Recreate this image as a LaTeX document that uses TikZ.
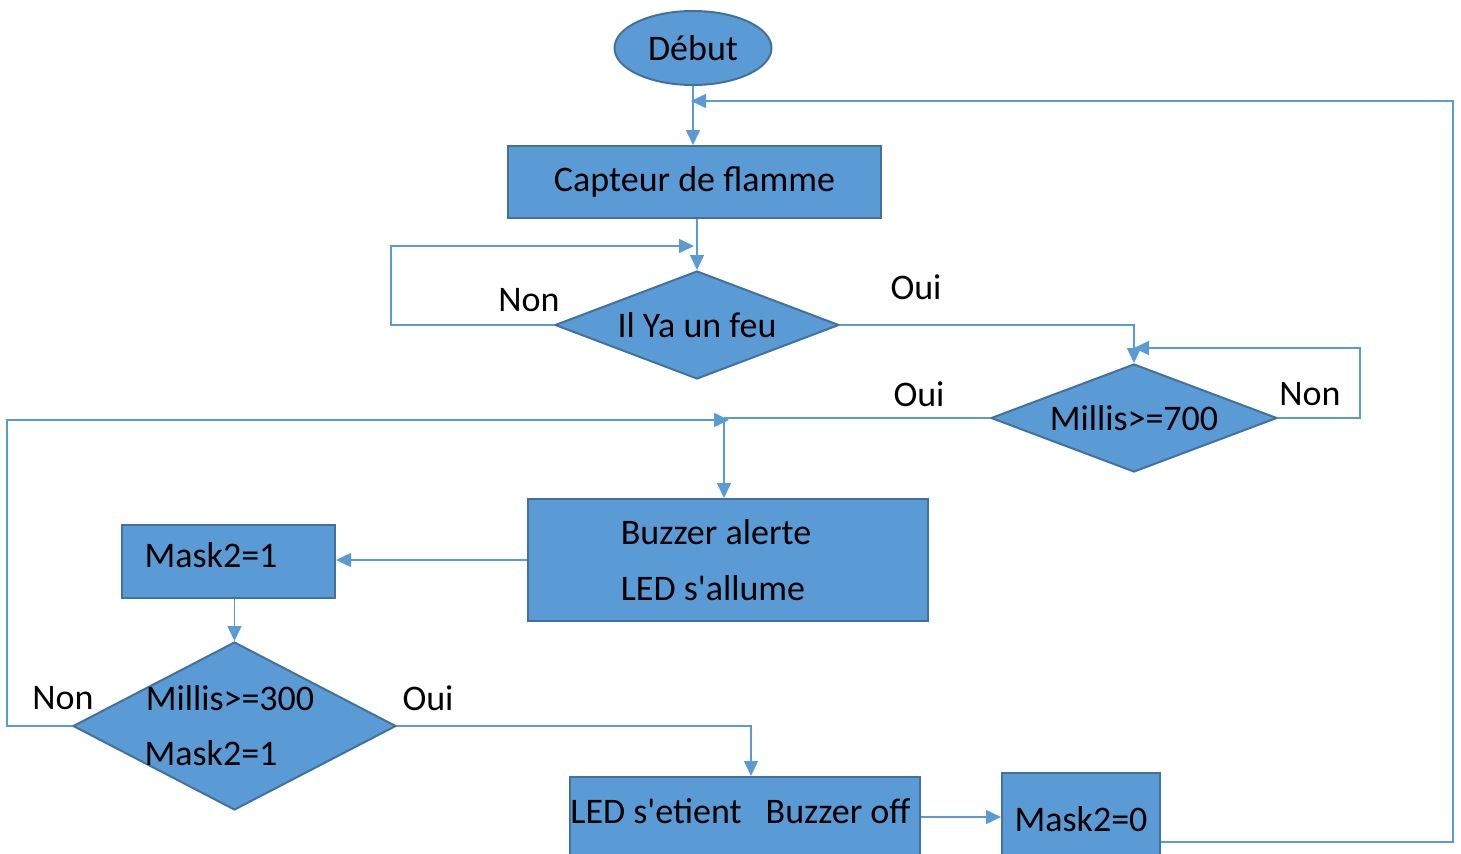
\documentclass[tikz,border=0pt]{standalone}
\usepackage{fontspec}
\setmainfont{Carlito}[Ligatures=TeXOff]
\usetikzlibrary{shapes.geometric,arrows.meta}
\definecolor{boxfill}{HTML}{5B9BD5}
\definecolor{boxline}{HTML}{41719C}
\definecolor{conn}{HTML}{5B9BD5}
\tikzset{
  base/.style={fill=boxfill,draw=boxline,line width=1pt,inner sep=0pt,font=\fontsize{18}{22}\selectfont},
  procbox/.style={base,rectangle},
  decbox/.style={base,diamond},
  startbox/.style={base,ellipse},
  txt/.style={inner sep=0pt,font=\fontsize{18}{22}\selectfont},
  conline/.style={draw=conn,line width=0.75pt},
  arr/.style={conline,-{Triangle[length=7.5pt,width=7pt]}}
}
\begin{document}
\begin{tikzpicture}[x=0.5pt,y=-0.5pt]
\useasboundingbox (0,0) rectangle (1461,853);
% shapes
\node[startbox,minimum width=78.5pt,minimum height=37pt] (debut) at (693,48) {Début};
\node[procbox,minimum width=186.5pt,minimum height=36pt] (capteur) at (694.5,182) {Capteur de flamme};
\node[decbox,aspect=2.63,minimum width=142pt,minimum height=54pt] (d1) at (697,325) {Il Ya un feu};
\node[decbox,aspect=2.65,minimum width=143pt,minimum height=54pt] (d2) at (1134,418) {Millis>=700};
\node[procbox,minimum width=200pt,minimum height=61pt] (buzzer) at (728,560) {};
\node[procbox,minimum width=106.5pt,minimum height=36.5pt] (mask1) at (228.5,561.5) {};
\node[decbox,minimum width=161.5pt,minimum height=84pt] (d3) at (234.5,726) {};
\node[procbox,minimum width=175pt,minimum height=40pt] (led) at (745,817) {};
\node[procbox,minimum width=79pt,minimum height=46.5pt] (mask0) at (1081,819.5) {Mask2=0};
% texts inside off-centre boxes
\node[txt] (tbuz1) at (716,532) {Buzzer alerte};
\node[txt] (tbuz2) at (713,588) {LED s'allume};
\node[txt] (tmask1) at (211,555) {Mask2=1};
\node[txt] (tmil3) at (230,698) {Millis>=300};
\node[txt] (tmask3) at (211,753) {Mask2=1};
\node[txt,anchor=west] (tled) at (570,811) {LED s'etient\hspace{12pt}Buzzer off};
% labels
\node[txt] (lnon1) at (529,300) {Non};
\node[txt] (loui1) at (916,287) {Oui};
\node[txt] (loui2) at (919,394) {Oui};
\node[txt] (lnon2) at (1310,394) {Non};
\node[txt] (lnon3) at (63,698) {Non};
\node[txt] (loui3) at (428,698) {Oui};
% junction coordinates
\coordinate (jtop) at (691,101);
\coordinate (jd1) at (694,246);
\coordinate (jd2) at (1134,348);
\coordinate (jbuz) at (724,418);
\coordinate (jbuzin) at (729,420);
\coordinate (jled) at (751,725);
\coordinate (rcorner) at (1453,842);
% connectors
\draw[arr] (debut.south) -- (debut.south |- capteur.north);
\draw[arr] (capteur.south -| d1.north) -- (d1.north);
\draw[arr] (d1.west) -- ++(-163,0) |- (jd1);
\draw[arr] (d1.east) -| (d2.north);
\draw[arr] (d2.east) -- ++(82,0) |- (jd2);
\draw[conline] (d2.west) -- (jbuz);
\draw[arr] (jbuz) -- (jbuz |- buzzer.north);
\draw[arr] (d3.west) -- ++(-65,0) |- (jbuzin);
\draw[arr] (buzzer.west) -- (buzzer.west -| mask1.east);
\draw[arr] (mask1.south -| d3.north) -- (d3.north);
\draw[arr] (d3.east) -| (jled |- led.north);
\draw[arr] (led.east) -- (led.east -| mask0.west);
\draw[arr] (mask0.east |- rcorner) -- (rcorner) |- (jtop);
\end{tikzpicture}
\end{document}
